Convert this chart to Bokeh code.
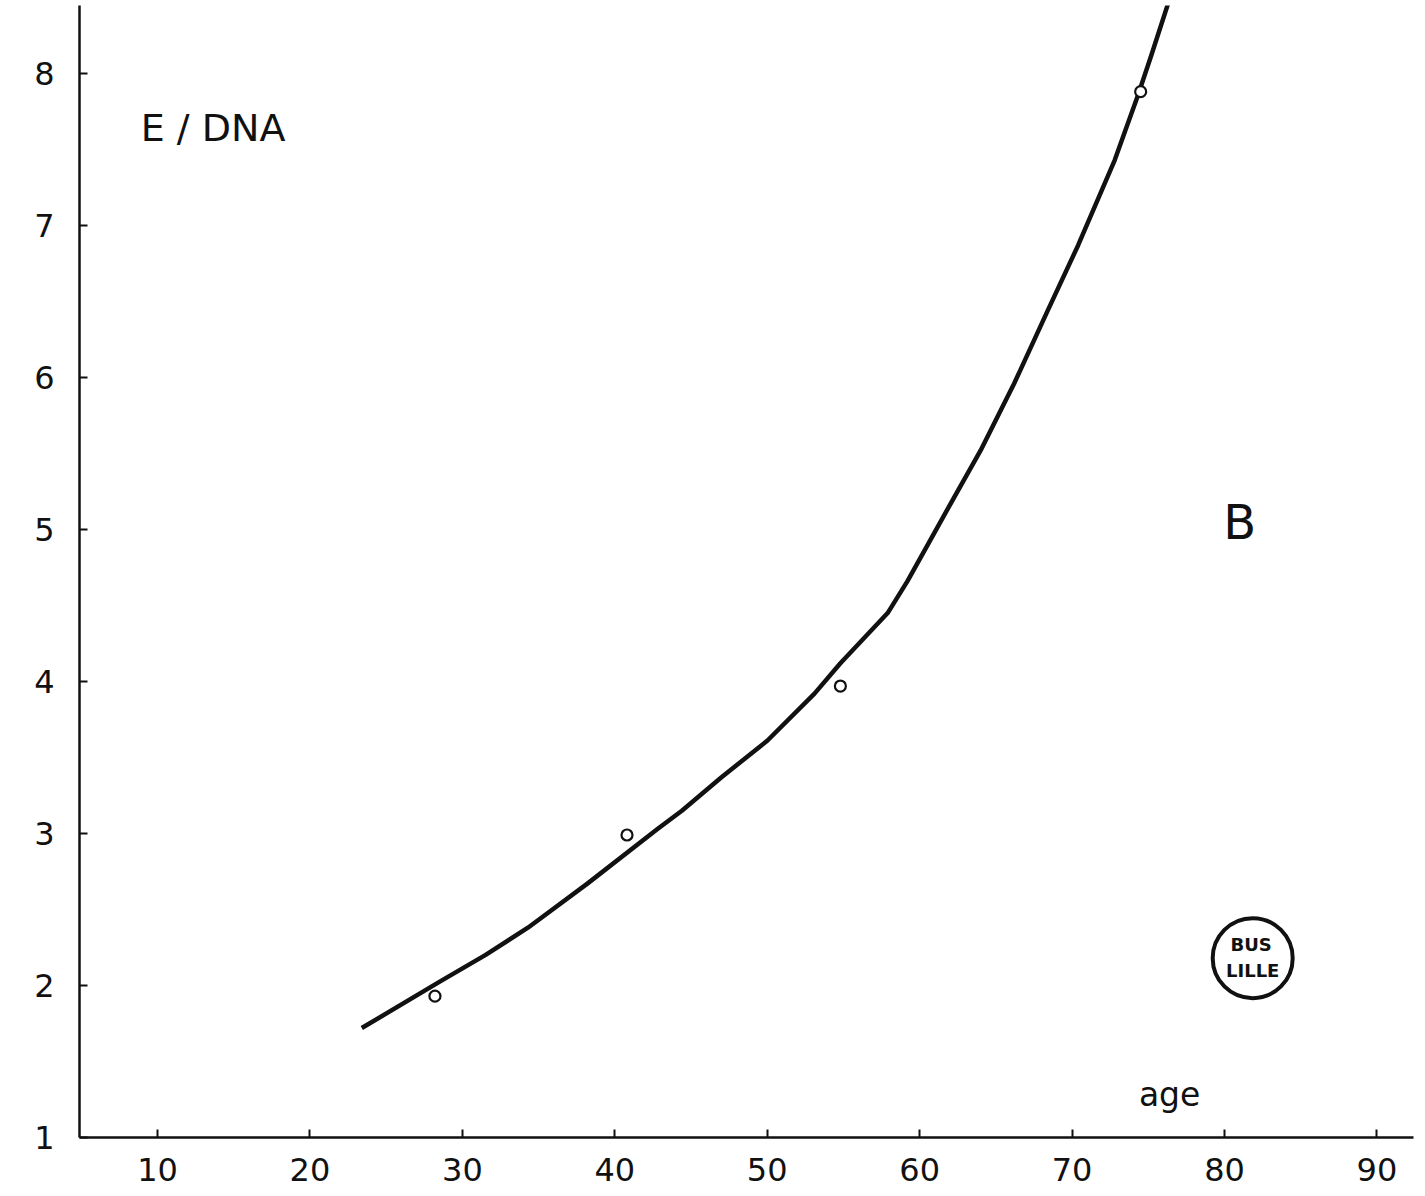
from bokeh.plotting import figure
from bokeh.models import Range1d, FixedTicker
from bokeh.core.properties import value
from bokeh.embed import file_html
from bokeh.resources import INLINE

# fitted curve
curve_age = [23.4, 28.6, 31.5, 34.3, 38.2, 42.8, 44.4, 47.0, 50.0, 53.1, 54.8, 57.9,
             59.2, 60.7, 62.2, 64.0, 66.2, 68.4, 70.4, 72.8, 74.3, 75.2, 76.3]
curve_ratio = [1.72, 2.03, 2.20, 2.38, 2.67, 3.03, 3.15, 3.37, 3.61, 3.92, 4.12, 4.45,
               4.66, 4.93, 5.20, 5.52, 5.96, 6.44, 6.87, 7.43, 7.85, 8.12, 8.46]

# measured points
point_age = [28.2, 40.8, 54.8, 74.5]
point_ratio = [1.93, 2.99, 3.97, 7.88]

x_ticks = [10, 20, 30, 40, 50, 60, 70, 80, 90]
y_ticks = [1, 2, 3, 4, 5, 6, 7, 8]

FONT = "DejaVu Sans"
INK = "#111111"

p = figure(width=1420, height=1196, output_backend="svg", toolbar_location=None,
           x_range=Range1d(4.88, 92.4), y_range=Range1d(1.0, 8.447),
           min_border_left=79, min_border_right=7, min_border_top=5, min_border_bottom=59)
p.outline_line_color = None
p.xgrid.visible = False
p.ygrid.visible = False
p.background_fill_color = "white"
p.border_fill_color = "white"

for ax in (p.xaxis[0], p.yaxis[0]):
    ax.axis_line_width = 2.5
    ax.axis_line_color = INK
    ax.major_tick_in = 8
    ax.major_tick_out = 0
    ax.minor_tick_in = 0
    ax.minor_tick_out = 0
    ax.major_tick_line_width = 2
    ax.major_tick_line_color = INK
    ax.major_label_text_font = FONT
    ax.major_label_text_font_size = "32px"
    ax.major_label_text_color = INK

p.xaxis.ticker = FixedTicker(ticks=x_ticks)
p.yaxis.ticker = FixedTicker(ticks=y_ticks)
p.xaxis.major_label_standoff = 20
p.yaxis.major_label_standoff = 25

p.line(curve_age, curve_ratio, line_width=4.5, line_color=INK, line_join="round")
p.scatter(point_age, point_ratio, marker="circle", size=11, line_width=2.2,
          line_color=INK, fill_color="white")

p.text(x=[8.9], y=[7.64], text=["E / DNA"], text_font=value(FONT),
       text_font_size="38px", text_baseline="middle", text_align="left",
       text_color=INK)
p.text(x=[81.0], y=[5.05], text=["B"], text_font=value(FONT),
       text_font_size="48px", text_baseline="middle", text_align="center",
       text_color=INK)
p.text(x=[76.4], y=[1.28], text=["age"], text_font=value(FONT),
       text_font_size="33px", text_baseline="middle", text_align="center",
       text_color=INK)

# library stamp
p.scatter([81.85], [2.18], marker="circle", size=80, line_width=4,
          line_color=INK, fill_color=None)
p.text(x=[81.75, 81.85], y=[2.27, 2.10], text=["BUS", "LILLE"], text_font=value(FONT),
       text_font_size="18px", text_font_style="bold", text_baseline="middle",
       text_align="center", text_color=INK)

open("out.html", "w").write(file_html(p, INLINE))
